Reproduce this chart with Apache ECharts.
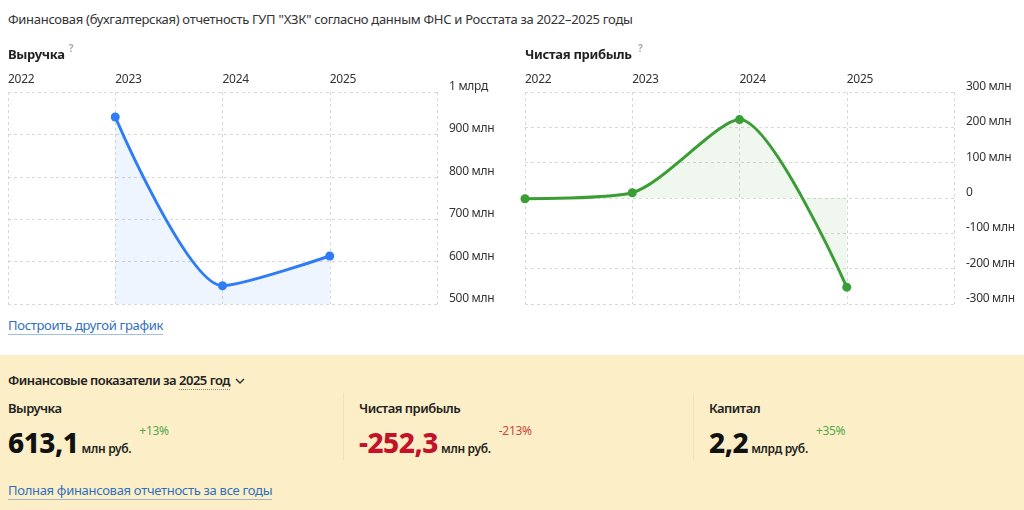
<!DOCTYPE html>
<html lang="ru">
<head>
<meta charset="utf-8">
<title>ГУП "ХЗК" — отчетность</title>
<script src="https://cdn.jsdelivr.net/npm/echarts@6/dist/echarts.min.js"></script>
<style>
  html, body { margin: 0; padding: 0; background: #fff; }
  body { width: 1024px; height: 510px; position: relative; overflow: hidden;
         font-family: "Noto Sans", "Open Sans", sans-serif; color: #333; letter-spacing: -0.3px; }
  .head { position: absolute; left: 8px; top: 10px; font-size: 13px; }
  #charts { position: absolute; left: 0; top: 30px; width: 1024px; height: 285px; }
  .link { color: #2f6fc0; text-decoration: none; border-bottom: 1px solid rgba(47,111,192,0.45); font-size: 13px; }
  .more { position: absolute; left: 8px; top: 316px; }
  .panel { position: absolute; left: 0; top: 355px; width: 1024px; height: 155px; background: #fcefc7; }
  .ptitle { position: absolute; left: 8px; top: 16px; font-size: 13px; font-weight: 600; color: #222; letter-spacing: -0.5px; }
  .ptitle .yr { border-bottom: 1px dotted #888; }
  .ptitle svg { vertical-align: middle; margin-left: 2px; }
  .col { position: absolute; top: 38px; height: 67px; }
  .col1 { left: 8px; width: 335px; }
  .col2 { left: 343px; width: 335px; padding-left: 15px; border-left: 1px solid #efe2b8; }
  .col3 { left: 693px; width: 320px; padding-left: 15px; border-left: 1px solid #efe2b8; }
  .lbl { font-size: 13px; font-weight: 600; color: #222; margin-top: 6px; letter-spacing: -0.5px; }
  .val { position: relative; margin-top: 6px; white-space: nowrap; }
  .num { font-size: 28px; font-weight: 800; letter-spacing: -0.5px; color: #111; }
  .num.neg { color: #c4122a; }
  .unit { font-size: 12px; font-weight: 600; color: #222; margin-left: 3px; }
  .chg { position: relative; top: -18px; font-size: 12px; margin-left: 8px; }
  .chg.up { color: #55a84a; }
  .chg.down { color: #cf4543; }
  .all { position: absolute; left: 8px; top: 126px; }
</style>
</head>
<body>
<div class="head">Финансовая (бухгалтерская) отчетность ГУП "ХЗК" согласно данным ФНС и Росстата за 2022–2025 годы</div>
<div id="charts"></div>
<a class="link more" href="#">Построить другой график</a>

<div class="panel">
  <div class="ptitle">Финансовые показатели за <span class="yr">2025 год</span>
    <svg width="10" height="8" viewBox="0 0 10 8"><path d="M1 2 L5 6 L9 2" fill="none" stroke="#333" stroke-width="1.5"/></svg>
  </div>
  <div class="col col1">
    <div class="lbl">Выручка</div>
    <div class="val"><span class="num">613,1</span><span class="unit">млн руб.</span><span class="chg up">+13%</span></div>
  </div>
  <div class="col col2">
    <div class="lbl">Чистая прибыль</div>
    <div class="val"><span class="num neg">-252,3</span><span class="unit">млн руб.</span><span class="chg down">-213%</span></div>
  </div>
  <div class="col col3">
    <div class="lbl">Капитал</div>
    <div class="val"><span class="num">2,2</span><span class="unit">млрд руб.</span><span class="chg up">+35%</span></div>
  </div>
  <a class="link all" href="#">Полная финансовая отчетность за все годы</a>
</div>

<script>
// годы и показатели, млн руб.
const years = [2022, 2023, 2024, 2025];
const revenue = [null, 941, 543, 613.1];
const profit = [-2, 15, 222, -252.3];

const revenueTicks = [500, 600, 700, 800, 900, 1000];
const profitTicks = [-300, -200, -100, 0, 100, 200, 300];

const gridLine = { show: true, lineStyle: { color: '#d8d8d8', type: [3, 3], width: 1 } };
const labelStyle = { color: '#333', fontSize: 12 };

function pairs(vals) {
  return years.map((y, i) => [y, vals[i] == null ? '-' : vals[i]]);
}

function xAxis(gridIndex) {
  return {
    gridIndex: gridIndex,
    type: 'value',
    position: 'top',
    min: years[0],
    max: years[years.length - 1] + 1,
    interval: 1,
    axisLine: { show: false },
    axisTick: { show: false },
    splitLine: gridLine,
    axisLabel: Object.assign({}, labelStyle, {
      align: 'left',
      margin: 6,
      formatter: v => years.indexOf(v) >= 0 ? String(v) : ''
    })
  };
}

function yAxis(gridIndex, ticks, fmt) {
  return {
    gridIndex: gridIndex,
    type: 'value',
    position: 'right',
    min: ticks[0],
    max: ticks[ticks.length - 1],
    interval: ticks[1] - ticks[0],
    axisLine: { show: false },
    axisTick: { show: false },
    splitLine: gridLine,
    axisLabel: Object.assign({}, labelStyle, { margin: 12, verticalAlign: 'bottom', lineHeight: 11, formatter: fmt })
  };
}

function chartTitle(left, name) {
  return {
    left: left, top: 14, padding: 0,
    text: '{t|' + name + '}{q|?}',
    textStyle: { rich: {
      t: { fontSize: 13, fontWeight: 'bold', color: '#222' },
      q: { fontSize: 10, color: '#aaa', padding: [0, 0, 12, 2] }
    } }
  };
}

const chart = echarts.init(document.getElementById('charts'));

chart.setOption({
  animation: false,
  textStyle: { fontFamily: '"Noto Sans", "Open Sans", sans-serif' },
  title: [chartTitle(8, 'Выручка'), chartTitle(525, 'Чистая прибыль')],
  grid: [
    { left: 8, top: 62, width: 429, height: 212 },
    { left: 525, top: 62, width: 429, height: 212 }
  ],
  xAxis: [xAxis(0), xAxis(1)],
  yAxis: [
    yAxis(0, revenueTicks, v => v >= 1000 ? (v / 1000) + ' млрд' : v + ' млн'),
    yAxis(1, profitTicks, v => v === 0 ? '0' : v + ' млн')
  ],
  series: [
    {
      name: 'Выручка',
      type: 'line',
      xAxisIndex: 0, yAxisIndex: 0,
      data: pairs(revenue),
      smooth: 0.25,
      symbol: 'circle',
      symbolSize: 9,
      lineStyle: { color: '#2f7df6', width: 3 },
      itemStyle: { color: '#2f7df6' },
      areaStyle: { color: 'rgba(47,125,246,0.11)', origin: 'start' }
    },
    {
      name: 'Чистая прибыль',
      type: 'line',
      xAxisIndex: 1, yAxisIndex: 1,
      data: pairs(profit),
      smooth: 0.25,
      symbol: 'circle',
      symbolSize: 9,
      lineStyle: { color: '#3a9e35', width: 3 },
      itemStyle: { color: '#3a9e35' },
      areaStyle: { color: 'rgba(58,158,53,0.11)', origin: 0 }
    }
  ]
});
</script>
</body>
</html>
